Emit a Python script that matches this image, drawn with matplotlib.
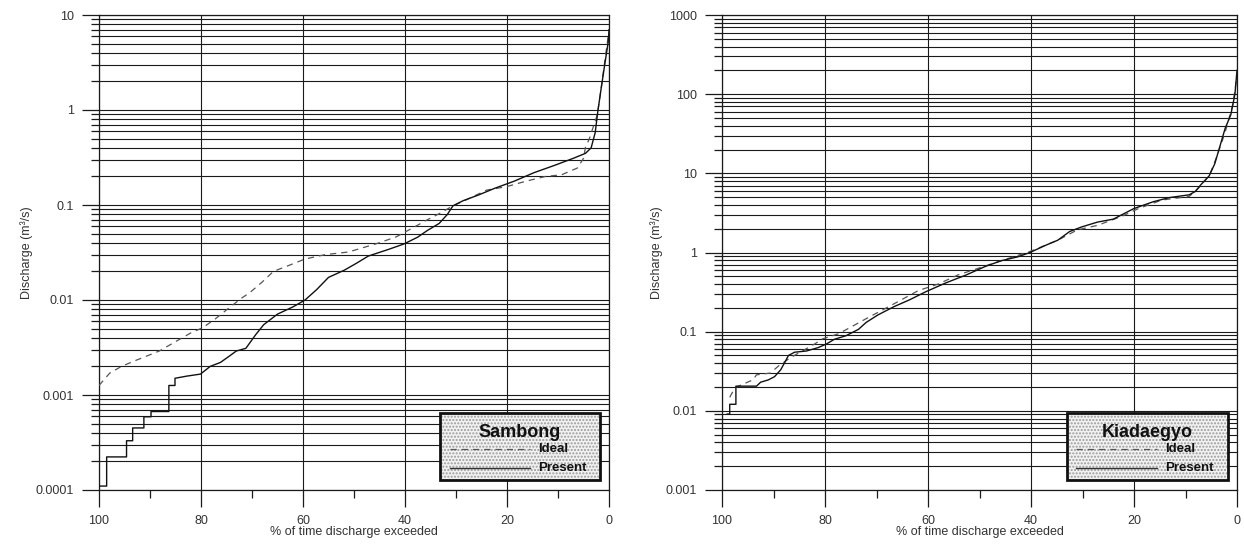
import matplotlib
matplotlib.use("Agg")
from matplotlib import pyplot as plt
from matplotlib.patches import Rectangle
from matplotlib.ticker import FixedLocator, LogLocator, FuncFormatter, NullFormatter

plt.rcParams['font.family'] = ['Liberation Sans', 'DejaVu Sans']

# Sambong flow duration curves (% time exceeded, discharge m3/s)
sam_present_x = [100, 98.5, 98.5, 94.6, 94.6, 93.4, 93.4, 91.2, 91.2, 89.8, 89.8, 86.3, 86.3, 85.1,
                 85.1, 82.8, 80.1, 78.2, 76.2, 74.3, 73.1, 71.2, 69.3, 67.7, 65.0, 61.9, 59.6, 57.3,
                 55.0, 51.9, 49.5, 47.2, 43.3, 40.2, 37.5, 35.6, 33.3, 31.7, 30.6, 28.6, 25.5, 22.4,
                 18.6, 14.7, 10.8, 7.0, 4.6, 3.5, 2.7, 2.2, 1.6, 0.8, 0.15, 0.0]
sam_present_y = [0.00011, 0.00011, 0.000223, 0.000223, 0.00033, 0.00033, 0.00045, 0.00045, 0.00059,
                 0.00059, 0.00067, 0.00067, 0.00126, 0.00126, 0.0015, 0.00158, 0.00166, 0.002, 0.0022,
                 0.0026, 0.0029, 0.0031, 0.0043, 0.0055, 0.0071, 0.0085, 0.010, 0.0129, 0.0173,
                 0.0206, 0.0244, 0.029, 0.034, 0.0389, 0.0459, 0.054, 0.064, 0.0795, 0.098, 0.111,
                 0.128, 0.15, 0.178, 0.219, 0.26, 0.31, 0.35, 0.40, 0.58, 0.96, 1.6, 3.1, 5.2, 7.0]
sam_ideal_x = [100, 97.9, 95.6, 92.9, 88.2, 84.4, 82.0, 79.7, 77.4, 74.7, 72.0, 70.4, 68.1, 65.8,
               62.7, 59.6, 55.7, 51.1, 45.7, 41.8, 38.7, 35.6, 33.3, 30.6, 27.9, 24.0, 20.1, 16.3,
               12.4, 9.3, 6.2, 5.0, 4.6, 3.9, 2.3, 1.6, 0.6, 0.15]
sam_ideal_y = [0.00126, 0.0017, 0.0020, 0.0023, 0.0029, 0.0038, 0.0045, 0.0051, 0.0062, 0.0081,
               0.0105, 0.012, 0.0153, 0.020, 0.0232, 0.027, 0.030, 0.032, 0.039, 0.046, 0.0566,
               0.070, 0.081, 0.098, 0.114, 0.1435, 0.156, 0.178, 0.20, 0.208, 0.245, 0.31, 0.41,
               0.49, 0.89, 1.6, 4.0, 6.0]

# Kiadaegyo flow duration curves
kia_present_x = [99.0, 98.5, 98.5, 97.3, 97.3, 93.3, 92.5, 91.0, 89.8, 88.6, 87.8, 87.1, 85.9, 83.6,
                 81.3, 79.7, 78.2, 75.9, 73.5, 72.0, 69.7, 66.6, 63.5, 60.4, 56.5, 52.6, 48.8, 45.7,
                 42.6, 40.2, 37.2, 34.8, 32.5, 30.2, 27.1, 24.0, 20.1, 16.3, 13.2, 9.3, 8.1, 7.0,
                 5.4, 4.3, 3.5, 2.3, 1.2, 0.4, 0.0]
kia_present_y = [0.0091, 0.0091, 0.0121, 0.0121, 0.0205, 0.0205, 0.023, 0.0246, 0.027, 0.033, 0.041,
                 0.050, 0.055, 0.057, 0.063, 0.070, 0.080, 0.089, 0.107, 0.131, 0.163, 0.207, 0.254,
                 0.32, 0.414, 0.52, 0.67, 0.79, 0.88, 1.0, 1.23, 1.43, 1.84, 2.1, 2.42, 2.64, 3.57,
                 4.37, 4.93, 5.35, 5.9, 7.2, 9.3, 13.3, 20.0, 37.0, 55.0, 100.0, 200.0]
kia_ideal_x = [98.5, 97.5, 94.0, 93.3, 90.6, 89.0, 86.7, 84.4, 82.0, 80.5, 77.4, 75.0, 72.0, 68.9,
               65.8, 61.9, 58.0, 54.2, 50.3, 45.7, 40.2, 34.8, 31.0, 27.1, 22.4, 19.2, 14.6, 9.3,
               7.7, 5.4, 3.9, 2.3, 0.8, 0.0]
kia_ideal_y = [0.0148, 0.0196, 0.0246, 0.0285, 0.030, 0.037, 0.047, 0.057, 0.070, 0.081, 0.094,
               0.114, 0.146, 0.187, 0.24, 0.33, 0.40, 0.52, 0.63, 0.79, 1.03, 1.43, 1.93, 2.2,
               2.86, 3.57, 4.6, 5.1, 6.3, 9.3, 16.4, 33.0, 75.0, 170.0]

x_ticks = [100, 80, 60, 40, 20, 0]
x_minor = [90, 70, 50, 30, 10]


def decimal_label(v, pos):
    if v >= 1:
        return '%d' % round(v)
    return ('%.6f' % v).rstrip('0')


def draw_panel(ax, px, py, ix, iy, ylim, station):
    # grid first so the curves sit on top
    ax.set_yscale('log')
    ax.set_xlim(100, 0)
    ax.set_ylim(*ylim)
    ax.xaxis.set_major_locator(FixedLocator(x_ticks))
    ax.xaxis.set_minor_locator(FixedLocator(x_minor))
    ax.yaxis.set_major_locator(LogLocator(base=10, numticks=20))
    ax.yaxis.set_minor_locator(LogLocator(base=10, subs=range(2, 10), numticks=20))
    ax.yaxis.set_major_formatter(FuncFormatter(decimal_label))
    ax.yaxis.set_minor_formatter(NullFormatter())
    ax.grid(True, which='major', axis='both', color='#1a1a1a', lw=0.8)
    ax.grid(True, which='minor', axis='y', color='#1a1a1a', lw=0.8)
    ax.tick_params(which='major', direction='out', length=12, width=0.9, pad=6,
                   labelsize=9, labelcolor='#333333', color='#1a1a1a')
    ax.tick_params(which='minor', direction='out', length=5.5, width=0.9, color='#1a1a1a')
    for sp in ax.spines.values():
        sp.set_color('#1a1a1a')
        sp.set_linewidth(0.9)

    ax.plot(ix, iy, color='#555555', lw=0.9, dashes=(5, 4), zorder=3)
    ax.plot(px, py, color='#111111', lw=1.0, zorder=4)

    ax.set_xlabel('% of time discharge exceeded', fontsize=9, color='#333333', labelpad=-1)
    ax.set_ylabel('Discharge (m\u00b3/s)', fontsize=9, color='#333333', labelpad=2)

    # stippled legend box
    tr = ax.transAxes
    ax.add_patch(Rectangle((0.669, 0.021), 0.313, 0.141, transform=tr, facecolor='#f2f2f2',
                           edgecolor='#9a9a9a', hatch='.....', lw=0, zorder=5))
    ax.add_patch(Rectangle((0.669, 0.021), 0.313, 0.141, transform=tr, facecolor='none',
                           edgecolor='#111111', lw=2.0, zorder=6))
    ax.text(0.825, 0.122, station, transform=tr, ha='center', va='center', fontsize=13,
            fontweight='bold', color='#111111', zorder=7)
    ax.plot([0.688, 0.845], [0.086, 0.086], transform=tr, color='#555555', lw=0.9,
            dashes=(5, 4), zorder=7)
    ax.plot([0.688, 0.845], [0.046, 0.046], transform=tr, color='#333333', lw=1.0, zorder=7)
    ax.text(0.861, 0.086, 'Ideal', transform=tr, ha='left', va='center', fontsize=9.5,
            fontweight='bold', color='#111111', zorder=7)
    ax.text(0.861, 0.046, 'Present', transform=tr, ha='left', va='center', fontsize=9.5,
            fontweight='bold', color='#111111', zorder=7)


fig = plt.figure(figsize=(12.44, 5.46), dpi=100)
ax1 = fig.add_axes([99 / 1244, 1 - 490 / 546, 510 / 1244, 475 / 546])
ax2 = fig.add_axes([722 / 1244, 1 - 490 / 546, 515 / 1244, 475 / 546])

draw_panel(ax1, sam_present_x, sam_present_y, sam_ideal_x, sam_ideal_y, (1e-4, 10), 'Sambong')
draw_panel(ax2, kia_present_x, kia_present_y, kia_ideal_x, kia_ideal_y, (1e-3, 1000), 'Kiadaegyo')

fig.savefig('out.png', dpi=100)
